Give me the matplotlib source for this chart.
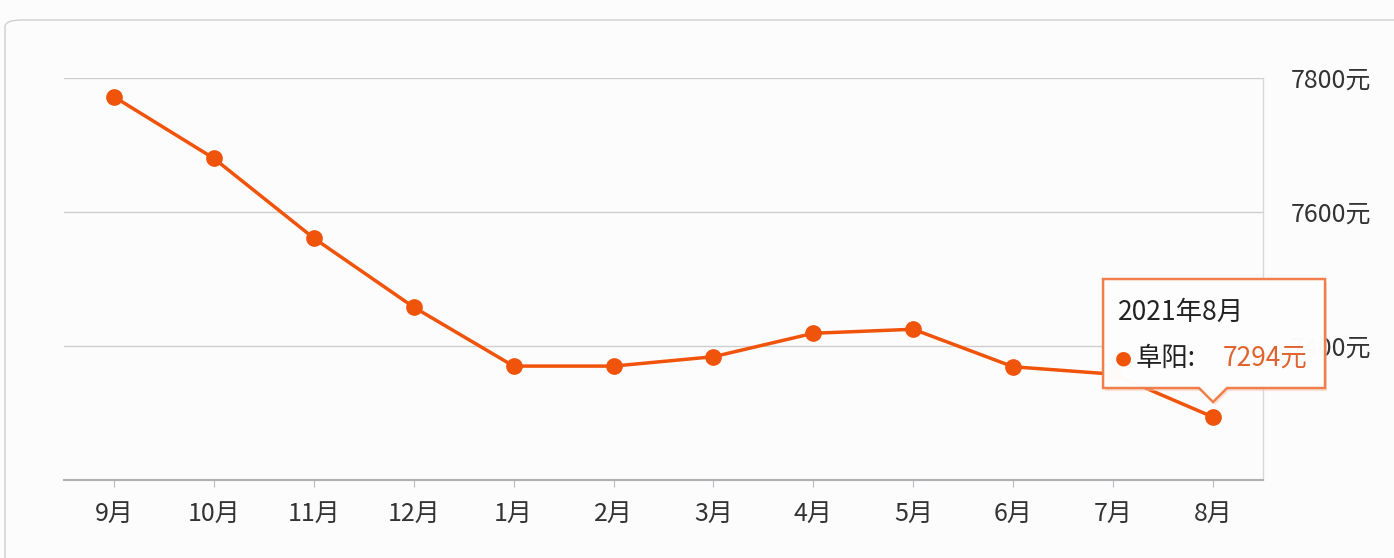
import matplotlib
matplotlib.use("Agg")
import matplotlib.pyplot as plt
from matplotlib.patches import FancyBboxPatch, Polygon

plt.rcParams["font.family"] = ["Noto Sans CJK SC", "DejaVu Sans"]

# data
months = ["9月", "10月", "11月", "12月", "1月", "2月", "3月", "4月", "5月", "6月", "7月", "8月"]
prices = [7772, 7680, 7561, 7458, 7370, 7370, 7384, 7419, 7425, 7369, 7358, 7294]
y_ticks = [7200, 7400, 7600, 7800]
y_labels = ["", "7400元", "7600元", "7800元"]
tip_title = "2021年8月"
tip_city = "阜阳:"
tip_value = "7294元"

W, H, DPI = 1394, 558, 100
LINE = "#f0530a"
TEXT = "#333333"
BG = "#fdfcfd"

fig = plt.figure(figsize=(W / DPI, H / DPI), dpi=DPI, facecolor=BG)

# outer card
fig.patches.append(FancyBboxPatch(
    (5 / W, -0.05), (W + 20) / W, 1 - 20 / H + 0.05,
    boxstyle="round,pad=0,rounding_size=0.012",
    transform=fig.transFigure, facecolor="none", edgecolor="#cfcfd3", linewidth=1.0, zorder=-5))

ax = fig.add_axes([64 / W, 1 - 480 / H, (1263 - 64) / W, (480 - 78) / H])
ax.set_facecolor("none")
ax.set_zorder(1)

x = list(range(len(months)))
ax.plot(x, prices, color=LINE, linewidth=2.5, marker="o", markersize=11,
        markerfacecolor=LINE, markeredgecolor=LINE, zorder=3, clip_on=False)

ax.set_xlim(-0.5, len(months) - 0.5)
ax.set_ylim(y_ticks[0], y_ticks[-1])
ax.set_xticks(x)
ax.set_xticklabels(months, fontsize=18, color=TEXT)
ax.set_yticks(y_ticks)
ax.set_yticklabels(y_labels, fontsize=18, color=TEXT)
ax.yaxis.tick_right()
ax.tick_params(axis="y", length=0, pad=20)
ax.tick_params(axis="x", length=5, color="#b8b8bc", pad=10)

ax.grid(axis="y", color="#cfcfd3", linewidth=1.0)
for s in ["top", "left"]:
    ax.spines[s].set_visible(False)
ax.spines["bottom"].set_color("#b0b0b4")
ax.spines["bottom"].set_linewidth(1.5)
ax.spines["right"].set_color("#d8d8dc")
ax.spines["right"].set_linewidth(1.0)

# tooltip anchored on the last point (display coords == pixels)
fig.canvas.draw()
px, py = ax.transData.transform((x[-1], prices[-1]))
left, right = px - 110, px + 112
bottom, top = py + 29, py + 138
tip_y = py + 15
outline = [(left, bottom), (px - 14, bottom), (px, tip_y), (px + 14, bottom),
           (right, bottom), (right, top), (left, top)]
shadow = [(a + 2, b - 3) for a, b in outline]
fig.patches.append(Polygon(shadow, closed=True, transform=None, facecolor="#f4c9b4",
                           edgecolor="none", alpha=0.5, zorder=9))
fig.patches.append(Polygon(outline, closed=True, transform=None, facecolor="white",
                           edgecolor="#f07a45", linewidth=1.8, alpha=0.96, zorder=10))
fig.text(left + 15, top - 33, tip_title, transform=None, fontsize=19, color="#222222",
         va="center", ha="left", zorder=11)
fig.text(left + 20, bottom + 30, "●", transform=None, fontsize=14, color=LINE,
         va="center", ha="center", family=["DejaVu Sans"], zorder=11)
fig.text(left + 33, bottom + 30, tip_city, transform=None, fontsize=19, color="#222222",
         va="center", ha="left", zorder=11)
fig.text(right - 18, bottom + 30, tip_value, transform=None, fontsize=19, color="#e0622e",
         va="center", ha="right", zorder=11)

fig.savefig("out.png", dpi=DPI, facecolor=BG)
